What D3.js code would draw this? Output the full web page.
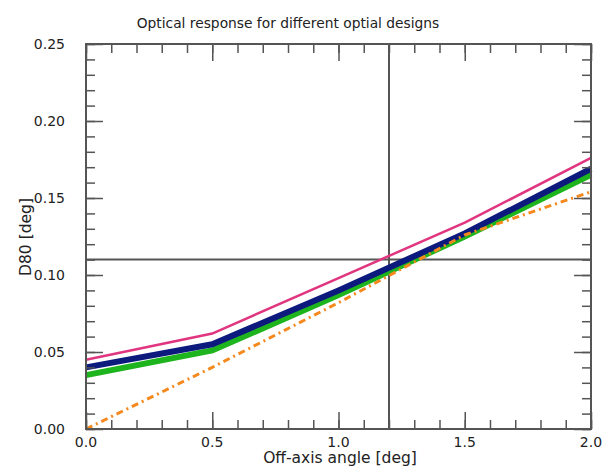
<!DOCTYPE html>
<html>
<head>
<meta charset="utf-8">
<script src="https://cdn.jsdelivr.net/npm/d3@7"></script>
<style>
  body { margin: 0; background: white; }
  text { font-family: "DejaVu Sans", sans-serif; fill: #222; }
</style>
</head>
<body>
<div id="chart"></div>
<script>
const angles = [0.0, 0.5, 1.0, 1.5, 2.0];
const pinkD80 = [0.045, 0.062, 0.098, 0.134, 0.176];
const navyD80 = [0.040, 0.055, 0.090, 0.127, 0.169];
const greenD80 = [0.035, 0.051, 0.087, 0.125, 0.165];
const orangeD80 = [0.000, 0.040, 0.082, 0.126, 0.154];
const xTicks = [0.0, 0.5, 1.0, 1.5, 2.0];
const yTicks = [0.00, 0.05, 0.10, 0.15, 0.20, 0.25];
const refAngle = 1.2;
const refD80 = 0.11;

const width = 613, height = 476;
const margin = { top: 44, right: 22, bottom: 47, left: 86 };

const svg = d3.select("#chart").append("svg")
  .attr("width", width).attr("height", height)
  .style("background", "white");

const x = d3.scaleLinear().domain([0, 2]).range([margin.left, width - margin.right]);
const y = d3.scaleLinear().domain([0, 0.25]).range([height - margin.bottom, margin.top]);

const frame = "#555";
const x0 = x.range()[0], x1 = x.range()[1], y0 = y.range()[0], y1 = y.range()[1];

// crosshair
svg.append("line").attr("x1", x(refAngle)).attr("x2", x(refAngle)).attr("y1", y1).attr("y2", y0)
  .attr("stroke", frame).attr("stroke-width", 2);
svg.append("line").attr("x1", x0).attr("x2", x1).attr("y1", y(refD80)).attr("y2", y(refD80))
  .attr("stroke", frame).attr("stroke-width", 2);

// series
const series = [
  { vals: greenD80, color: "#1db41d", w: 6, dash: null },
  { vals: navyD80, color: "#0b1a7c", w: 6, dash: null },
  { vals: pinkD80, color: "#e0357f", w: 2.5, dash: null },
  { vals: orangeD80, color: "#f5891e", w: 3, dash: "7,4,2,4" }
];
const line = d3.line().x((d, i) => x(angles[i])).y(d => y(d));
series.forEach(s => {
  svg.append("path").datum(s.vals)
    .attr("d", line)
    .attr("fill", "none")
    .attr("stroke", s.color)
    .attr("stroke-width", s.w)
    .attr("stroke-dasharray", s.dash)
    .attr("stroke-linejoin", "miter");
});

// inward ticks on all sides
const xMinor = d3.range(0, 2.0001, 0.1);
const yMinor = d3.range(0, 0.25001, 0.01);
function tickAxis(axis, tr, vals, size) {
  const g = svg.append("g").attr("transform", tr)
    .call(axis.tickValues(vals).tickSize(size).tickFormat(""));
  g.select(".domain").remove();
  g.selectAll("line").attr("stroke", frame).attr("stroke-width", 1.5);
  return g;
}
tickAxis(d3.axisBottom(x), `translate(0,${y0})`, xMinor, -9);
tickAxis(d3.axisBottom(x), `translate(0,${y0})`, xTicks, -17);
tickAxis(d3.axisTop(x), `translate(0,${y1})`, xMinor, -9);
tickAxis(d3.axisTop(x), `translate(0,${y1})`, xTicks, -17);
tickAxis(d3.axisLeft(y), `translate(${x0},0)`, yMinor, -9);
tickAxis(d3.axisLeft(y), `translate(${x0},0)`, yTicks, -17);
tickAxis(d3.axisRight(y), `translate(${x1},0)`, yMinor, -9);
tickAxis(d3.axisRight(y), `translate(${x1},0)`, yTicks, -17);

// frame
svg.append("rect").attr("x", x0).attr("y", y1).attr("width", x1 - x0).attr("height", y0 - y1)
  .attr("fill", "none").attr("stroke", frame).attr("stroke-width", 2);

// tick labels
svg.append("g").selectAll("text").data(xTicks).enter().append("text")
  .attr("x", d => x(d)).attr("y", y0 + 18)
  .attr("text-anchor", "middle").attr("font-size", "14px")
  .text(d => d.toFixed(1));
svg.append("g").selectAll("text").data(yTicks).enter().append("text")
  .attr("x", x0 - 21).attr("y", d => y(d)).attr("dy", "0.35em")
  .attr("text-anchor", "end").attr("font-size", "14px")
  .text(d => d.toFixed(2));

// titles
svg.append("text").attr("x", 288).attr("y", 28)
  .attr("text-anchor", "middle").attr("font-size", "13.8px")
  .text("Optical response for different optial designs");
svg.append("text").attr("x", 340).attr("y", 463)
  .attr("text-anchor", "middle").attr("font-size", "15.5px")
  .text("Off-axis angle [deg]");
svg.append("text").attr("transform", `translate(31,237) rotate(-90)`)
  .attr("text-anchor", "middle").attr("font-size", "15.5px")
  .text("D80 [deg]");
</script>
</body>
</html>
